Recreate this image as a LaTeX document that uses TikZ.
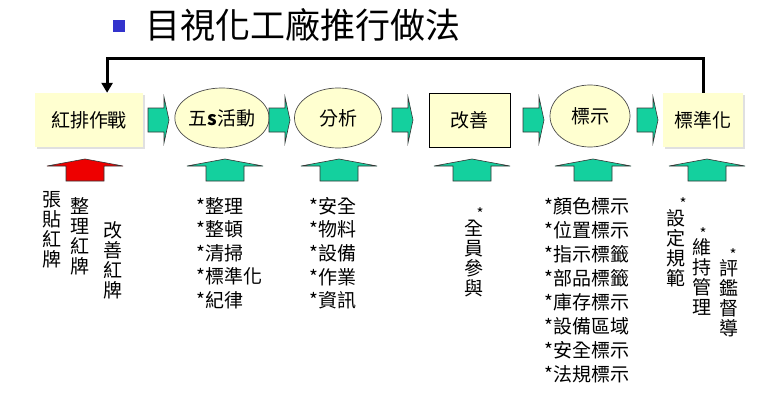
\documentclass[tikz,border=0pt]{standalone}
\usepackage{fontspec}
\setmainfont{Noto Sans CJK TC}
\usetikzlibrary{arrows.meta,shapes.geometric,calc}
\definecolor{boxfill}{RGB}{255,255,208}
\definecolor{tealg}{RGB}{20,208,158}
\definecolor{redf}{RGB}{238,0,0}
\definecolor{bullet}{RGB}{51,51,204}
\newcommand{\fs}[2]{\fontsize{#1}{#2}\selectfont}
\newcommand{\rarw}[2]{%
  \draw[blockarw] (#1,#2-12) -- (#1+16,#2-12) -- (#1+16,#2-23) -- (#1+21,#2) -- (#1+16,#2+23) -- (#1+16,#2+12) -- (#1,#2+12) -- cycle;}
\newcommand{\uarw}[2]{%
  \draw[blockarw,#2] (#1-19,181) -- (#1-19,166) -- (#1-38,166) -- (#1,159) -- (#1+38,166) -- (#1+19,166) -- (#1+19,181) -- cycle;}
\tikzset{
  blockarw/.style={fill=tealg,draw=black!80,line width=0.6pt,line join=miter},
  flatbox/.style={rectangle,fill=boxfill,minimum width=108pt,minimum height=54pt,inner sep=0pt,font=\fs{19}{20}},
  ellbox/.style={ellipse,fill=boxfill,draw=black!70,line width=0.7pt,inner sep=0pt,font=\fs{19}{20}},
  listtxt/.style={anchor=north west,inner sep=0pt,align=left,font=\fs{19}{23.6}},
  vtxt/.style={anchor=north,inner sep=0pt,align=center,font=\fs{19}{20}},
  shadowbox/.style={fill=black!12},
}
\begin{document}
\begin{tikzpicture}[x=1pt,y=-1pt]
\useasboundingbox (0,0) rectangle (772,415);
\fill[white] (0,0) rectangle (772,415);
% title
\fill[bullet] (113,20) rectangle (125,32);
\node[anchor=west,inner sep=0pt,font=\fs{35}{36}] (title) at (145,25) {目視化工廠推行做法};
% shadows
\fill[shadowbox] (37,95) rectangle (145,149);
\fill[shadowbox] (665,95) rectangle (745,149);
% boxes
\node[flatbox] (rp) at (89,120) {紅排作戰};
\node[ellbox,minimum width=80pt,minimum height=60pt] (wu) at (222,118) {五\textbf{s}活動};
\node[ellbox,minimum width=87pt,minimum height=60pt] (fx) at (338,118) {分析};
\node[flatbox,draw=black,line width=0.7pt,minimum width=81pt] (gs) at (469.5,120) {改善};
\node[ellbox,minimum width=80pt,minimum height=62pt] (bs) at (590,116) {標示};
\node[flatbox,minimum width=80pt] (bz) at (703,120) {標準化};
% feedback loop
\coordinate (lpR) at ($(bz.north)+(0,-34)$);
\coordinate (rpT) at ($(rp.north west)!0.667!(rp.north east)$);
\draw[line width=3pt,-{Triangle[width=11pt,length=10pt]}] (bz.north) -- (lpR) -- (rpT |- lpR) -- (rpT);
% right block arrows
\rarw{148}{120}
\rarw{269}{120}
\rarw{392}{120}
\rarw{523}{120}
\rarw{637}{120}
% up block arrows
\uarw{85}{fill=redf}
\uarw{225}{}
\uarw{339}{}
\uarw{472}{}
\uarw{593}{}
\uarw{707}{}
% texts under red arrow
\node[vtxt] (v1) at (52,191) {張\\貼\\紅\\牌};
\node[vtxt] (v2) at (80,197) {整\\理\\紅\\牌};
\node[vtxt] (v3) at (113,221) {改\\善\\紅\\牌};
% lists
\node[listtxt] (l2) at (196,197) {*整理\\*整頓\\*清掃\\*標準化\\*紀律};
\node[listtxt] (l3) at (309,197) {*安全\\*物料\\*設備\\*作業\\*資訊};
\node[vtxt] (v4) at (474,207) {全\rlap{\kern-7pt\raisebox{16pt}{\fs{15}{15}*}}\\員\\參\\與};
\node[listtxt,font=\fs{19}{24}] (l5) at (544,197) {*顏色標示\\*位置標示\\*指示標籤\\*部品標籤\\*庫存標示\\*設備區域\\*安全標示\\*法規標示};
\node[vtxt] (v6) at (676,197) {設\rlap{\kern-6pt\raisebox{16pt}{\fs{15}{15}*}}\\定\\規\\範};
\node[vtxt] (v7) at (702,227) {維\rlap{\kern-12pt\raisebox{15pt}{\fs{15}{15}*}}\\持\\管\\理};
\node[vtxt] (v8) at (729,248) {評\rlap{\kern-9pt\raisebox{15pt}{\fs{15}{15}*}}\\鑑\\督\\導};
\end{tikzpicture}
\end{document}
